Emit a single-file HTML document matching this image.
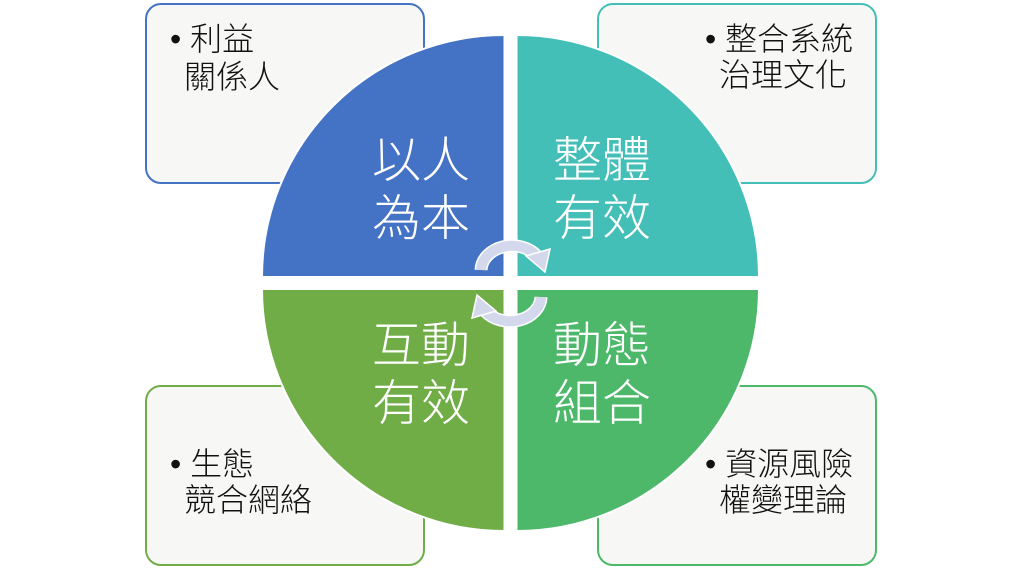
<!DOCTYPE html>
<html><head><meta charset="utf-8"><style>
html,body{margin:0;padding:0;background:#fff;}
body{width:1024px;height:570px;overflow:hidden;position:relative;font-family:"Liberation Sans","Noto Sans CJK TC",sans-serif;}
.box{position:absolute;border:2px solid;border-radius:16px;background:#f7f8f5;box-sizing:border-box;}
.t{position:absolute;font-size:32px;color:#111;line-height:38px;white-space:nowrap;font-weight:300;font-family:"Liberation Sans","Noto Sans CJK TC",sans-serif;}
</style></head><body>
<div class="box" style="left:145px;top:3px;width:280px;height:181px;border-color:#4472C4"></div>
<div class="box" style="left:597px;top:3px;width:280px;height:181px;border-color:#43BFB8"></div>
<div class="box" style="left:145px;top:385px;width:280px;height:181px;border-color:#70AD47"></div>
<div class="box" style="left:597px;top:385px;width:280px;height:181px;border-color:#4DB86A"></div>
<div class="t" style="left:170px;top:20px">• 利益</div>
<div class="t" style="left:184px;top:58px">關係人</div>
<div class="t" style="left:705px;top:20px">• 整合系統</div>
<div class="t" style="left:719px;top:56px">治理文化</div>
<div class="t" style="left:170px;top:445px">• 生態</div>
<div class="t" style="left:184px;top:481px">競合網絡</div>
<div class="t" style="left:705px;top:445px">• 資源風險</div>
<div class="t" style="left:719px;top:481px">權變理論</div>
<svg width="1024" height="570" style="position:absolute;left:0;top:0">
<g stroke="#fff" stroke-width="2">
<path d="M504.5,277 L504.5,35 A242.5,242 0 0 0 262,277 Z" fill="#4472C4"/>
<path d="M516.5,277 L516.5,35 A242.5,242 0 0 1 759,277 Z" fill="#43BFB8"/>
<path d="M504.5,289 L504.5,531 A242.5,242 0 0 1 262,289 Z" fill="#70AD47"/>
<path d="M516.5,289 L516.5,531 A242.5,242 0 0 0 759,289 Z" fill="#4DB86A"/>
</g>
<g font-family="Liberation Sans, Noto Sans CJK TC, sans-serif" font-size="49" font-weight="300" fill="#fff" text-anchor="middle">
<text x="421" y="177">以人</text><text x="421" y="235">為本</text>
<text x="602" y="177">整體</text><text x="602" y="235">有效</text>
<text x="421" y="362">互動</text><text x="421" y="420">有效</text>
<text x="602" y="362">動態</text><text x="602" y="420">組合</text>
</g>
<g fill="none" stroke-linecap="butt">
<path d="M481,270 A31,25 0 0 1 537,256" stroke="#fff" stroke-width="13"/>
<path d="M481,270 A31,25 0 0 1 537,256" stroke="#d3d8ec" stroke-width="10"/>
<path d="M541,297 A31,25 0 0 1 485,311" stroke="#fff" stroke-width="13"/>
<path d="M541,297 A31,25 0 0 1 485,311" stroke="#d3d8ec" stroke-width="10"/>
</g>
<g fill="#d3d8ec" stroke="#fff" stroke-width="1.5">
<polygon points="526,256 550,249 545,272"/>
<polygon points="496,311 472,318 477,295"/>
</g>
</svg>
</body></html>
